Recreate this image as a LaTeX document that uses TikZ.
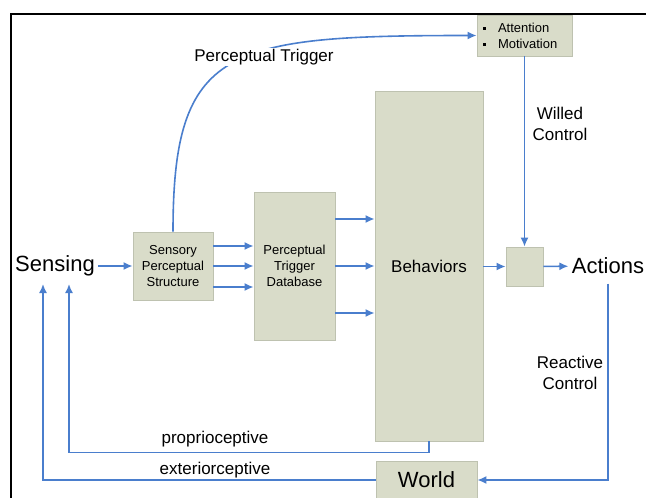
\documentclass[tikz,border=0pt]{standalone}
\usepackage{fontspec}
\setmainfont{Liberation Sans}
\usetikzlibrary{arrows.meta}

\definecolor{boxfill}{RGB}{217,220,201}
\definecolor{boxline}{RGB}{190,194,176}
\definecolor{flowblue}{RGB}{74,126,205}

\tikzset{
  block/.style={draw=boxline, fill=boxfill, line width=0.8pt, inner sep=0pt, align=center, font=\fontsize{13}{16}\selectfont},
  flow/.style={draw=flowblue, line width=1.6pt, -{Latex[length=9pt,width=8pt]}},
  lbl/.style={font=\fontsize{17}{21}\selectfont, align=center, inner sep=1pt},
  big/.style={font=\fontsize{22}{26}\selectfont}
}

\begin{document}
\begin{tikzpicture}[x=1pt, y=-1pt]
\useasboundingbox (0,0) rectangle (646,498);
% Frame
\draw[line width=2pt] (11,498) -- (11,14) -- (646,14);

% Blocks
\node[block, minimum width=80, minimum height=68] (sps) at (173,266) {Sensory\\Perceptual\\Structure};
\node[block, minimum width=81, minimum height=148] (ptd) at (294.5,266) {Perceptual\\Trigger\\Database};
\node[block, minimum width=108, minimum height=350, font=\fontsize{17}{21}\selectfont] (beh) at (429,266) {Behaviors};
\node[block, minimum width=37, minimum height=39] (sel) at (524.5,266.5) {};
\node[block, minimum height=41, text width=83pt, inner xsep=6pt, align=left] (attn) at (524.5,35.5) {\rule[2.5pt]{3pt}{3pt}\hspace{12pt}Attention\\\rule[2.5pt]{3pt}{3pt}\hspace{12pt}Motivation};
\node[block, minimum width=101, minimum height=38, big] (world) at (426.5,480) {World};

% Ends
\node[big] (sensing) at (55,266) {Sensing};
\node[big] (actions) at (608,266) {Actions};
\coordinate (pin) at (69,284);
\coordinate (ein) at (43,284);

% Forward flow
\draw[flow] (sensing) -- (sps);
\foreach \dy in {20,0,-21}
  \draw[flow] ([yshift=\dy pt]sps.east) -- ([yshift=\dy pt]sps.east -| ptd.west);
\foreach \dy in {47,0,-47}
  \draw[flow] ([yshift=\dy pt]ptd.east) -- ([yshift=\dy pt]ptd.east -| beh.west);
\draw[flow] (beh.east |- sel.west) -- (sel.west);
\draw[flow] (sel) -- (actions);
\draw[flow] (attn.south) -- (sel.north);
\draw[flow] (sps.north) .. controls ([yshift=185pt]sps.north) and ([xshift=-250pt]attn.west) .. (attn.west);

% Feedback
\draw[flow] (beh.south) -- ++(0,11) -| (pin);
\draw[flow] (world.west) -| (ein);
\draw[flow] ([yshift=-6pt]actions.south) |- (world.east);

% Labels
\node[lbl, fill=white] (trig) at (264,57) {Perceptual Trigger};
\node[lbl] (willed) at (560,124) {Willed\\Control};
\node[lbl] (reactive) at (570,373) {Reactive\\Control};
\node[lbl] (proprio) at (215,439) {proprioceptive};
\node[lbl] (exterior) at (215,470) {exteriorceptive};
\end{tikzpicture}
\end{document}
